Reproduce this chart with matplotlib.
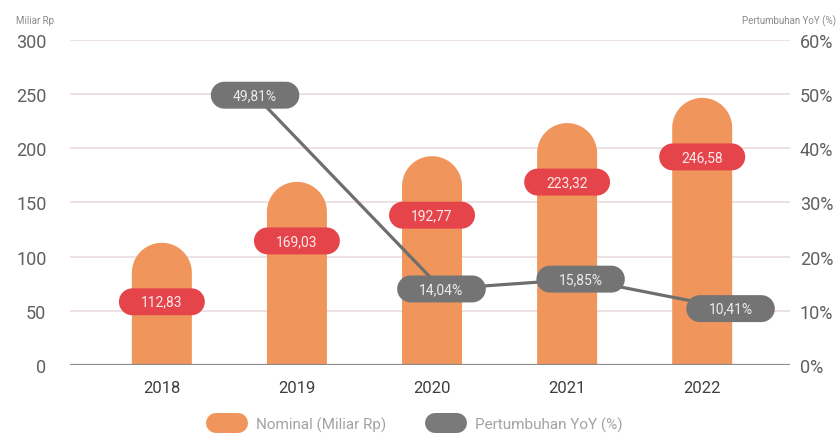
import numpy as np
import matplotlib
matplotlib.use("Agg")
import matplotlib.pyplot as plt
from matplotlib.path import Path
from matplotlib.patches import PathPatch
from matplotlib.lines import Line2D

plt.rcParams['font.family'] = ['Roboto', 'DejaVu Sans']

# data
years = ['2018', '2019', '2020', '2021', '2022']
nominal = [112.83, 169.03, 192.77, 223.32, 246.58]
growth = [None, 49.81, 14.04, 15.85, 10.41]
left_ticks = [0, 50, 100, 150, 200, 250, 300]
right_ticks = [0, 10, 20, 30, 40, 50, 60]

BAR_COLOR = '#F0955C'
RED = '#E5444B'
GRAY = '#747474'
GRID = '#EBDCDC'

# horizontal shift of the growth labels / line relative to the bar centre
label_shift = [0, -0.31, 0.07, 0.10, 0.21]


def pill(x0, y0, width, height, mutation_size):
    # pill shaped box, sizes relative to the font size (in pixels)
    padx = 1.6 * mutation_size
    r = 0.97 * mutation_size
    cx, cy = x0 + width / 2, y0 + height / 2
    hw = width / 2 + padx
    t = np.linspace(-np.pi / 2, np.pi / 2, 20)
    right = np.column_stack([cx + hw - r + r * np.cos(t), cy + r * np.sin(t)])
    t2 = np.linspace(np.pi / 2, 3 * np.pi / 2, 20)
    left = np.column_stack([cx - hw + r + r * np.cos(t2), cy + r * np.sin(t2)])
    verts = np.vstack([right, left, right[:1]])
    return Path(verts, closed=True)


fig = plt.figure(figsize=(8.4, 4.39), dpi=100)
ax = fig.add_axes([70 / 840, 1 - 366 / 439, 720 / 840, 325 / 439])
ax.set_xlim(-0.68, 4.65)
ax.set_ylim(0, 300)

x = np.arange(len(years))
bar_w = 0.444

# rounded-top bars
px_x = ax.bbox.width / (4.65 + 0.68)
px_y = ax.bbox.height / 300
ry = (bar_w / 2 * px_x) / px_y
for xi, v in zip(x, nominal):
    t = np.linspace(0, np.pi, 40)
    top = np.column_stack([xi + bar_w / 2 * np.cos(t), v - ry + ry * np.sin(t)])
    verts = np.vstack([[xi + bar_w / 2, 0], top, [xi - bar_w / 2, 0], [xi + bar_w / 2, 0]])
    ax.add_patch(PathPatch(Path(verts, closed=True), facecolor=BAR_COLOR,
                           edgecolor='none', zorder=2))

for xi, v in zip(x, nominal):
    ax.annotate(f"{v:.2f}".replace('.', ','), xy=(xi, v), xytext=(0, -42.5),
                textcoords='offset points', ha='center', va='center',
                fontsize=10, color='#FBEAEA', zorder=4,
                bbox=dict(boxstyle=pill, facecolor=RED, edgecolor='none'))

ax.set_yticks(left_ticks)
ax.set_xticks(x)
ax.set_xticklabels(years, fontsize=12, color='#3F3F3F')
ax.tick_params(axis='y', length=0, pad=17, labelsize=13, labelcolor='#606060')
ax.tick_params(axis='x', length=0, pad=11)
for t in left_ticks[1:]:
    ax.axhline(t, color=GRID, lw=1.2, zorder=1)
ax.axhline(0, color='#8C8C8C', lw=1.6, zorder=3)
for s in ax.spines.values():
    s.set_visible(False)

ax2 = ax.twinx()
ax2.set_ylim(0, 60)
ax2.set_yticks(right_ticks)
ax2.set_yticklabels([f"{t}%" for t in right_ticks])
ax2.tick_params(axis='y', length=0, pad=7, labelsize=13, labelcolor='#606060')
for s in ax2.spines.values():
    s.set_visible(False)

gx = [xi + label_shift[i] for i, xi in enumerate(x) if growth[i] is not None]
gy = [g for g in growth if g is not None]
ax2.plot(gx, gy, color='#6E6E6E', lw=2.3, zorder=3)
for xi, g in zip(gx, gy):
    ax2.annotate(f"{g:.2f}%".replace('.', ','), xy=(xi, g), ha='center', va='center',
                 fontsize=10, color='#ECECEC', zorder=5,
                 bbox=dict(boxstyle=pill, facecolor=GRAY, edgecolor='none'))

fig.text(16 / 840, 1 - 21 / 439, 'Miliar Rp', fontsize=7, color='#8A8A8A', va='center')
fig.text(836 / 840, 1 - 21 / 439, 'Pertumbuhan YoY (%)', fontsize=7, color='#8A8A8A',
         va='center', ha='right')

handles = [Line2D([0], [0], color=BAR_COLOR, lw=14.4, solid_capstyle='round'),
           Line2D([0], [0], color='#7A7A7A', lw=14.4, solid_capstyle='round')]
fig.legend(handles, ['Nominal (Miliar Rp)', 'Pertumbuhan YoY (%)'], loc='center',
           bbox_to_anchor=(419 / 840, 1 - 425 / 439), ncol=2, frameon=False,
           fontsize=11, labelcolor='#A3A3A3', handlelength=1.44, handletextpad=1.18,
           columnspacing=3.2)

fig.savefig('out.png', dpi=100)
